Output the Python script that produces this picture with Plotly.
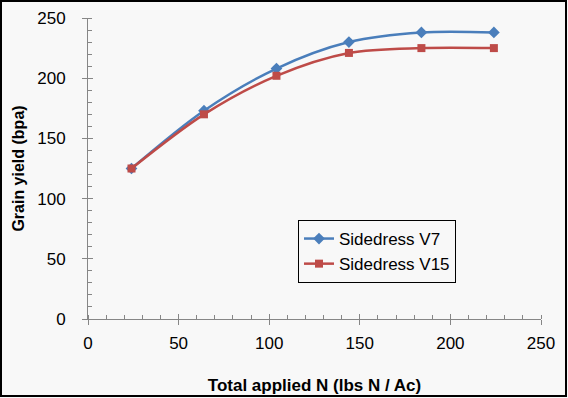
import plotly.graph_objects as go

n_applied = [24, 64, 104, 144, 184, 224]
yield_v7 = [125, 173, 208, 230, 238, 238]
yield_v15 = [125, 170, 202, 221, 225, 225]
series_names = ["Sidedress V7", "Sidedress V15"]

W, H = 568, 398
L, R, T, B = 88, 27, 18, 79
pw, ph = W - L - R, H - T - B

FONT = "Liberation Sans"
AX = "#868686"

fig = go.Figure()
fig.add_trace(go.Scatter(
    x=n_applied, y=yield_v7, name=series_names[0], mode="lines+markers",
    line=dict(color="#4a7ebb", width=2.5, shape="spline", smoothing=0.9),
    marker=dict(symbol="diamond", size=9, color="#4a7ebb"),
))
fig.add_trace(go.Scatter(
    x=n_applied, y=yield_v15, name=series_names[1], mode="lines+markers",
    line=dict(color="#be4b48", width=2.5, shape="spline", smoothing=0.9),
    marker=dict(symbol="square", size=8, color="#be4b48"),
))

axis_common = dict(
    range=[0, 250], dtick=50, tick0=0, showgrid=False, zeroline=False,
    showline=True, linecolor=AX, linewidth=1,
    ticks="outside", ticklen=5, tickcolor=AX, tickwidth=1,
    minor=dict(dtick=10, ticks="inside", ticklen=4, tickcolor=AX, showgrid=False),
    tickfont=dict(family=FONT, size=17, color="#000000"),
    fixedrange=True, automargin=False,
)

fig.update_layout(
    width=W, height=H,
    margin=dict(l=L, r=R, t=T, b=B),
    paper_bgcolor="#f8f8f8", plot_bgcolor="#f8f8f8",
    font=dict(family=FONT, color="#000000"),
    xaxis=dict(**axis_common, ticklabelstandoff=4,
               title=dict(text="<b>Total applied N (lbs N / Ac)</b>",
                          font=dict(family=FONT, size=17), standoff=26)),
    yaxis=dict(**axis_common, ticklabelstandoff=13,
               title=dict(text="<b>Grain yield (bpa)</b>",
                          font=dict(family=FONT, size=16), standoff=8)),
    xaxis2=dict(overlaying="x", range=[0, 250], dtick=50, tick0=0, showgrid=False,
                zeroline=False, showline=False, ticks="inside", ticklen=5,
                tickcolor=AX, showticklabels=False, side="bottom"),
    yaxis2=dict(overlaying="y", range=[0, 250], dtick=50, tick0=0, showgrid=False,
                zeroline=False, showline=False, ticks="inside", ticklen=5,
                tickcolor=AX, showticklabels=False, side="left"),
    legend=dict(
        x=(298 - L) / pw, y=(H - B - 220) / ph, xanchor="left", yanchor="top",
        bgcolor="#f8f8f8", bordercolor="#000000", borderwidth=1,
        font=dict(family=FONT, size=17),
        itemwidth=30,
    ),
    showlegend=True,
    shapes=[dict(type="rect", xref="paper", yref="paper",
                 x0=(1 - L) / pw, x1=(W - 2 - L) / pw,
                 y0=(H - B - (H - 2)) / ph, y1=(H - B - 1) / ph,
                 line=dict(color="#000000", width=2), fillcolor="rgba(0,0,0,0)",
                 layer="above")],
)
# dummy trace to activate overlay axes
fig.add_trace(go.Scatter(x=[None], y=[None], xaxis="x2", yaxis="y2",
                         showlegend=False, hoverinfo="skip"))

fig.write_html("out.html", config={"displayModeBar": False},
               post_script="document.body.style.margin='0';document.body.style.overflow='hidden';")
